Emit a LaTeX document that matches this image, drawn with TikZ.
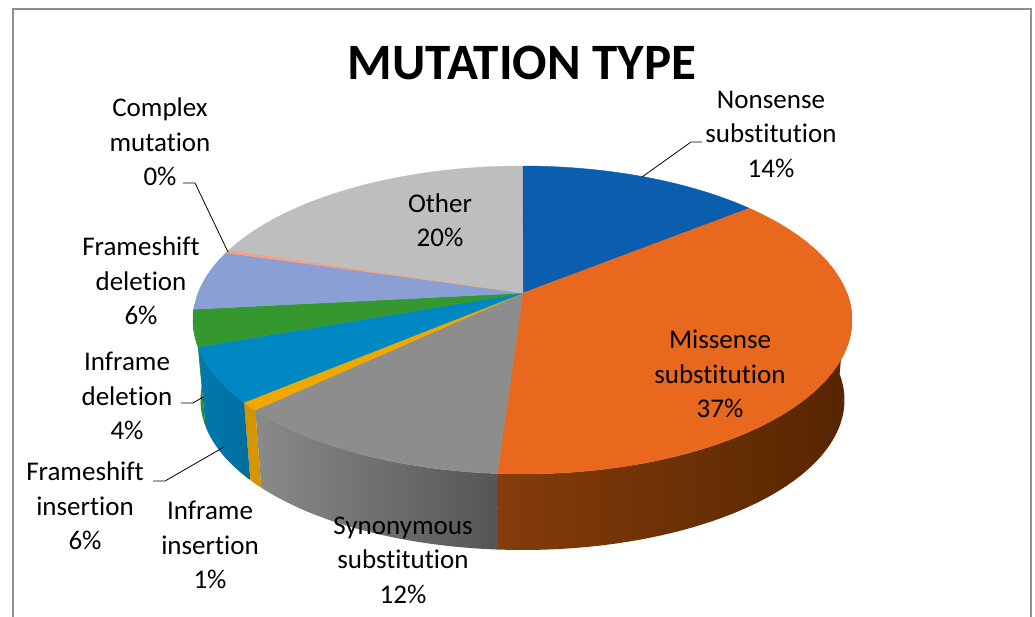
\documentclass[tikz,border=0pt]{standalone}
\usepackage{fontspec}
\setmainfont{Carlito}[RawFeature={-liga;-clig;-calt;-dlig}]
\usepackage{tikz}
\usetikzlibrary{positioning,calc}

\definecolor{cNonsense}{HTML}{0B5EAD}
\definecolor{cMissense}{HTML}{E8691E}
\definecolor{cSynonym}{HTML}{8D8D8D}
\definecolor{cInIns}{HTML}{F0A800}
\definecolor{cFsIns}{HTML}{0088C2}
\definecolor{cInDel}{HTML}{35982F}
\definecolor{cFsDel}{HTML}{8A9FD4}
\definecolor{cComplex}{HTML}{F5A283}
\definecolor{cOther}{HTML}{BEBEBE}
\definecolor{cFrame}{HTML}{8F8F8F}
% side colours (left and right end of each piece)
\definecolor{sMissL}{HTML}{853C0C}
\definecolor{sMissR}{HTML}{552500}
\definecolor{sSynL}{HTML}{8A8A8A}
\definecolor{sSynR}{HTML}{555555}
\definecolor{sInIns}{HTML}{D49600}
\definecolor{sFsInsL}{HTML}{0079AD}
\definecolor{sFsInsR}{HTML}{006E9E}
\definecolor{sInDel}{HTML}{2E8A2A}

\begin{document}
\begin{tikzpicture}[x=1pt, y=-1pt,
  lbl/.style = {align=center, inner sep=0pt, font=\fontsize{27}{34.5}\selectfont},
  leader/.style = {black, line width=0.8pt},
  slice/.style = {fill=#1, draw=#1, line width=0.4pt}]
  \useasboundingbox (0,0) rectangle (1035,617);
  \fill[white] (0,0) rectangle (1035,617);
  \clip (0,0) rectangle (1035,617);

  % chart area frame
  \draw[cFrame, line width=1.5pt] (13,640) -- (13,9) -- (1031,9) -- (1031,640);

  % title
  \node (title) at (522,63) {\fontsize{51}{60}\selectfont\bfseries MUTATION TYPE};

  \begin{scope}
    \def\cx{522.5}% centre of the top ellipse
    \def\cy{320}
    \def\rx{329.5}% radii of the top ellipse
    \def\ry{154}
    \def\bx{522.5}% centre of the bottom ellipse
    \def\by{400}
    \def\brx{322}% radii of the bottom ellipse
    \def\bry{150}
    \coordinate (apex) at (523,293);

    % side of the pie
    \foreach \from/\to/\lc/\rc in {-10/94.4/sMissL/sMissR, 94.4/144.2/sSynL/sSynR,
        144.2/147.7/sInIns/sInIns, 147.7/170/sFsInsL/sFsInsR,
        170/186/sInDel/sInDel}{
      \shade[left color=\lc, right color=\rc]
        plot[domain=\from:\to, samples=50] ({\cx+\rx*cos(\x)},{\cy+\ry*sin(\x)})
        -- plot[domain=\to:\from, samples=50] ({\bx+\brx*cos(\x)},{\by+\bry*sin(\x)})
        -- cycle;
    }

    % top face of the pie
    \foreach \from/\to/\col in {270/313.5/cNonsense, 313.5/454.4/cMissense,
        94.4/144.2/cSynonym, 144.2/147.7/cInIns, 147.7/170/cFsIns,
        170/184/cInDel, 184/205.9/cFsDel, 205.9/207/cComplex, 207/270/cOther}{
      \filldraw[slice=\col] (apex)
        -- plot[domain=\from:\to, samples=60] ({\cx+\rx*cos(\x)},{\cy+\ry*sin(\x)})
        -- cycle;
    }
  \end{scope}

  % labels
  \node[lbl] (lbl-nonsense) at (771,134) {Nonsense\\substitution\\14\%};
  \node[lbl] (lbl-missense) at (720,374) {Missense\\substitution\\37\%};
  \node[lbl] (lbl-synonym) at (403,560) {Synonymous\\substitution\\12\%};
  \node[lbl] (lbl-inins) at (210,545) {Inframe\\insertion\\1\%};
  \node[lbl] (lbl-fsins) at (85,506) {Frameshift\\insertion\\6\%};
  \node[lbl] (lbl-indel) at (127,396) {Inframe\\deletion\\4\%};
  \node[lbl] (lbl-fsdel) at (141,281) {Frameshift\\deletion\\6\%};
  \node[lbl] (lbl-complex) at (160,142) {Complex\\mutation\\0\%};
  \node[lbl] (lbl-other) at (440,220) {Other\\20\%};

  % leader lines
  \coordinate (lead-nonsense) at (702,142);
  \coordinate (tip-nonsense) at (642,177);
  \coordinate (lead-complex) at (183,183);
  \coordinate (tip-complex) at (228,252);
  \coordinate (lead-indel) at (181,403);
  \coordinate (tip-indel) at (203,397);
  \coordinate (lead-fsins) at (153,481);
  \coordinate (tip-fsins) at (224,447);
  \draw[leader] (lead-nonsense) -- ++(-11,0) -- (tip-nonsense);
  \draw[leader] (lead-complex) -- ++(12,0) -- (tip-complex);
  \draw[leader] (lead-indel) -- ++(12,0) -- (tip-indel);
  \draw[leader] (lead-fsins) -- ++(12,0) -- (tip-fsins);
\end{tikzpicture}
\end{document}
